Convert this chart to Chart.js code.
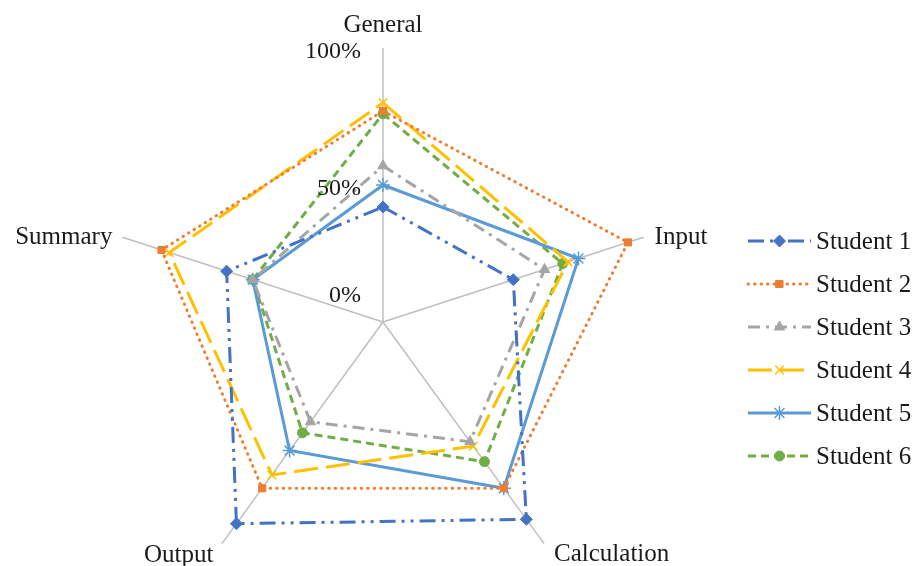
<!doctype html>
<html lang="en">
<head>
<meta charset="utf-8">
<title>Students radar</title>
<script src="https://cdn.jsdelivr.net/npm/chart.js"></script>
<style>
html, body {margin: 0; padding: 0; background: #fff; overflow: hidden; width: 918px; height: 566px;}
#wrap {position: absolute; left: 0; top: 0; width: 918px; height: 620px;}
</style>
</head>
<body>
<div id="wrap"><canvas id="chart" width="918" height="620"></canvas></div>
<script>
// categories (clockwise from the top)
const categories = ['General', 'Input', 'Calculation', 'Output', 'Summary'];

// scores in %
const student1 = [42, 50, 89, 91, 60];
const student2 = [77, 94, 75, 75, 85];
const student3 = [57, 62, 54, 45, 50];
const student4 = [80, 71, 56, 69, 82];
const student5 = [50, 75, 75, 58, 50];
const student6 = [76, 69, 63, 50, 50];

const seriesNames = ['Student 1', 'Student 2', 'Student 3', 'Student 4', 'Student 5', 'Student 6'];
const tickValues = [0, 50, 100];
const tickLabels = ['0%', '50%', '100%'];

const FONT = '"Liberation Serif", "Times New Roman", serif';
const TEXT = '#1a1a1a';

function ds(label, data, color, dash, style, radius, cap) {
  return {
    label: label,
    data: data,
    borderColor: color,
    backgroundColor: color,
    pointBackgroundColor: color,
    pointBorderColor: color,
    borderWidth: 3,
    borderDash: dash,
    borderCapStyle: cap || 'butt',
    pointStyle: style,
    pointRadius: radius,
    pointBorderWidth: (style === 'crossRot' || style === 'star') ? 1.5 : 1,
    fill: false,
    tension: 0
  };
}

const datasets = [
  ds(seriesNames[0], student1, '#4472C4', [16, 6, 3, 6, 3, 6], 'rectRot', 6),
  ds(seriesNames[1], student2, '#ED7D31', [0.5, 6], 'rect', 5, 'round'),
  ds(seriesNames[2], student3, '#A5A5A5', [12, 6, 3, 6], 'triangle', 6),
  ds(seriesNames[3], student4, '#FFC000', [24, 8], 'crossRot', 6),
  ds(seriesNames[4], student5, '#5B9BD5', [], 'star', 7),
  ds(seriesNames[5], student6, '#70AD47', [8, 5], 'circle', 5)
];

// axis titles, tick labels and legend, drawn as text on the canvas
const labelsPlugin = {
  id: 'excelLabels',
  afterDraw(chart) {
    const ctx = chart.ctx;
    const r = chart.scales.r;
    ctx.save();
    ctx.fillStyle = TEXT;

    // axis titles
    ctx.font = '25px ' + FONT;
    const offs = [
      {dx: 0, dy: -16, align: 'center'},
      {dx: 11, dy: 7, align: 'left'},
      {dx: 10, dy: 17, align: 'left'},
      {dx: -78, dy: 18, align: 'left'},
      {dx: -10, dy: 7, align: 'right'}
    ];
    categories.forEach((c, i) => {
      const p = r.getPointPositionForValue(i, 100);
      ctx.textAlign = offs[i].align;
      ctx.textBaseline = 'alphabetic';
      ctx.fillText(c, p.x + offs[i].dx, p.y + offs[i].dy);
    });

    // tick labels
    ctx.font = '24px ' + FONT;
    ctx.textAlign = 'right';
    tickValues.forEach((v, i) => {
      const p = r.getPointPositionForValue(0, v);
      const y = Math.min(p.y + 10, r.yCenter - 20);
      ctx.fillText(tickLabels[i], p.x - 22, y);
    });

    // legend
    const lx0 = 748, lx1 = 811, ly0 = 241, step = 43;
    chart.data.datasets.forEach((d, i) => {
      const y = ly0 + i * step;
      ctx.save();
      ctx.strokeStyle = d.borderColor;
      ctx.lineWidth = d.borderWidth;
      ctx.lineCap = d.borderCapStyle;
      ctx.setLineDash(d.borderDash);
      ctx.beginPath();
      ctx.moveTo(lx0, y);
      ctx.lineTo(lx1, y);
      ctx.stroke();
      ctx.setLineDash([]);
      ctx.fillStyle = d.pointBackgroundColor;
      ctx.strokeStyle = d.pointBorderColor;
      ctx.lineWidth = d.pointBorderWidth;
      Chart.helpers.drawPoint(ctx, {
        pointStyle: d.pointStyle,
        radius: d.pointRadius,
        rotation: 0,
        borderWidth: d.pointBorderWidth
      }, (lx0 + lx1) / 2, y);
      ctx.restore();
      ctx.font = '25px ' + FONT;
      ctx.textAlign = 'left';
      ctx.textBaseline = 'middle';
      ctx.fillStyle = TEXT;
      ctx.fillText(d.label, 816, y + 1);
    });
    ctx.restore();
  }
};

const chart = new Chart(document.getElementById('chart').getContext('2d'), {
  type: 'radar',
  data: {labels: categories, datasets: datasets},
  options: {
    responsive: false,
    animation: false,
    devicePixelRatio: 1,
    layout: {padding: {left: 109, top: 48, right: 261, bottom: 24}},
    scales: {
      r: {
        min: 0,
        max: 100,
        beginAtZero: true,
        ticks: {display: false, stepSize: 50},
        grid: {display: false},
        angleLines: {display: true, color: '#BFBFBF', lineWidth: 1.5},
        pointLabels: {display: false}
      }
    },
    plugins: {
      legend: {display: false},
      tooltip: {enabled: false},
      title: {display: false}
    }
  },
  plugins: [labelsPlugin]
});
</script>
</body>
</html>
